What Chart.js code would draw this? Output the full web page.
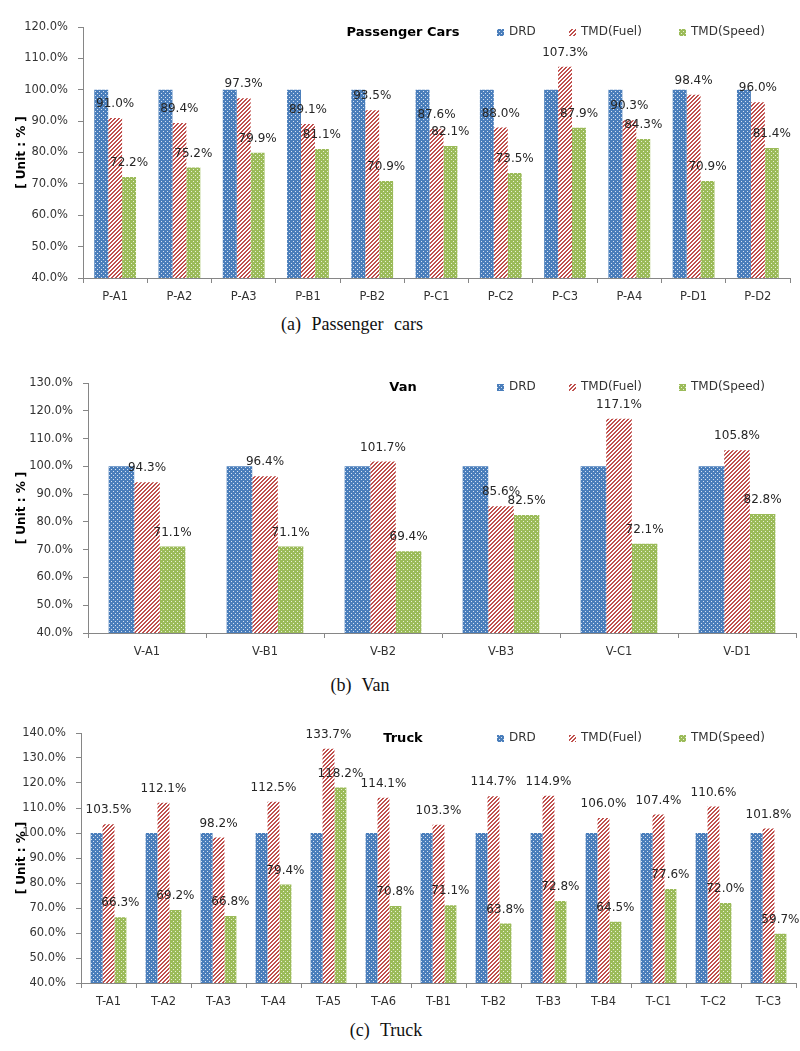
<!DOCTYPE html>
<html>
<head>
<meta charset="utf-8">
<script src="https://cdn.jsdelivr.net/npm/chart.js@4.4.1/dist/chart.umd.min.js"></script>
<style>
  body { margin: 0; background: #fff; }
  #page { position: relative; width: 800px; height: 1051px; overflow: hidden; }
  canvas { position: absolute; left: 0; }
  .caption {
    position: absolute; width: 300px; text-align: center;
    font-family: "Liberation Serif", serif; font-size: 18px; color: #111;
    word-spacing: 6px;
  }
</style>
</head>
<body>
<div id="page">
  <canvas id="passenger" width="800" height="310" style="top:0"></canvas>
  <div class="caption" style="left:202px; top:314px">(a) Passenger cars</div>
  <canvas id="van" width="800" height="310" style="top:350px"></canvas>
  <div class="caption" style="left:210px; top:675px">(b) Van</div>
  <canvas id="truck" width="800" height="310" style="top:700px"></canvas>
  <div class="caption" style="left:236px; top:1020px">(c) Truck</div>
</div>
<script>
// series names
const seriesNames = ["DRD", "TMD(Fuel)", "TMD(Speed)"];

// (a) passenger cars
const passengerCategories = ["P-A1", "P-A2", "P-A3", "P-B1", "P-B2", "P-C1", "P-C2", "P-C3", "P-A4", "P-D1", "P-D2"];
const passengerDrd = [100, 100, 100, 100, 100, 100, 100, 100, 100, 100, 100];
const passengerFuel = [91.0, 89.4, 97.3, 89.1, 93.5, 87.6, 88.0, 107.3, 90.3, 98.4, 96.0];
const passengerSpeed = [72.2, 75.2, 79.9, 81.1, 70.9, 82.1, 73.5, 87.9, 84.3, 70.9, 81.4];

// (b) van
const vanCategories = ["V-A1", "V-B1", "V-B2", "V-B3", "V-C1", "V-D1"];
const vanDrd = [100, 100, 100, 100, 100, 100];
const vanFuel = [94.3, 96.4, 101.7, 85.6, 117.1, 105.8];
const vanSpeed = [71.1, 71.1, 69.4, 82.5, 72.1, 82.8];

// (c) truck
const truckCategories = ["T-A1", "T-A2", "T-A3", "T-A4", "T-A5", "T-A6", "T-B1", "T-B2", "T-B3", "T-B4", "T-C1", "T-C2", "T-C3"];
const truckDrd = [100, 100, 100, 100, 100, 100, 100, 100, 100, 100, 100, 100, 100];
const truckFuel = [103.5, 112.1, 98.2, 112.5, 133.7, 114.1, 103.3, 114.7, 114.9, 106.0, 107.4, 110.6, 101.8];
const truckSpeed = [66.3, 69.2, 66.8, 79.4, 118.2, 70.8, 71.1, 63.8, 72.8, 64.5, 77.6, 72.0, 59.7];

const FONT = '"DejaVu Sans", Verdana, sans-serif';

// small pixel tiles for the excel-like fill patterns
function makeTile(size, pick) {
  const c = document.createElement("canvas");
  c.width = size;
  c.height = size;
  const cx = c.getContext("2d");
  const img = cx.createImageData(size, size);
  for (let y = 0; y < size; y++) {
    for (let x = 0; x < size; x++) {
      const col = pick(x, y);
      const k = (y * size + x) * 4;
      img.data[k] = col[0];
      img.data[k + 1] = col[1];
      img.data[k + 2] = col[2];
      img.data[k + 3] = 255;
    }
  }
  cx.putImageData(img, 0, 0);
  return cx.createPattern(c, "repeat");
}

const blue = [74, 126, 187], red = [192, 80, 77], green = [155, 187, 89];
const dotted = (base, dot) => (x, y) => ((x === 1 && y === 1) || (x === 3 && y === 3)) ? dot : base;
const blueFill = makeTile(4, dotted(blue, [214, 226, 242]));
const greenFill = makeTile(4, dotted(green, [232, 240, 214]));
const redFill = makeTile(4, (x, y) => ((x + y) % 4 < 2 ? red : [255, 255, 255]));

const valueLabels = {
  id: "valueLabels",
  afterDatasetsDraw(chart) {
    const ctx = chart.ctx;
    ctx.save();
    ctx.font = "12px " + FONT;
    ctx.fillStyle = "#262626";
    ctx.textAlign = "center";
    ctx.textBaseline = "middle";
    chart.data.datasets.forEach((ds, i) => {
      if (!ds.showValues) return;
      chart.getDatasetMeta(i).data.forEach((bar, j) => {
        ctx.fillText(ds.data[j].toFixed(1) + "%", bar.x, bar.y - 14);
      });
    });
    ctx.restore();
  },
};

// title + legend drawn over the plot area, like the excel original
const header = {
  id: "header",
  afterDraw(chart, args, opts) {
    const ctx = chart.ctx;
    ctx.save();
    ctx.textBaseline = "middle";
    ctx.textAlign = "center";
    ctx.font = "bold 13px " + FONT;
    ctx.fillStyle = "#000";
    ctx.fillText(opts.title, 403, opts.y + 1);
    ctx.textAlign = "left";
    ctx.font = "12px " + FONT;
    const xs = [497, 569, 679];
    chart.data.datasets.forEach((ds, i) => {
      ctx.fillStyle = ds.backgroundColor;
      ctx.fillRect(xs[i], opts.y - 3, 7, 7);
      ctx.fillStyle = "#333";
      ctx.fillText(ds.label, xs[i] + 12, opts.y);
    });
    ctx.restore();
  },
};

function buildChart(id, labels, drd, fuel, speed, cfg) {
  return new Chart(document.getElementById(id), {
    type: "bar",
    data: {
      labels,
      datasets: [
        { label: seriesNames[0], data: drd, backgroundColor: blueFill },
        { label: seriesNames[1], data: fuel, backgroundColor: redFill, showValues: true },
        { label: seriesNames[2], data: speed, backgroundColor: greenFill, showValues: true },
      ],
    },
    options: {
      responsive: false,
      animation: false,
      devicePixelRatio: 1,
      layout: { padding: { top: cfg.top, right: cfg.right, left: 0, bottom: 0 } },
      datasets: { bar: { categoryPercentage: 0.65, barPercentage: 1.0, borderWidth: 0 } },
      plugins: {
        legend: { display: false },
        tooltip: { enabled: false },
        header: { title: cfg.title, y: cfg.headerY },
      },
      scales: {
        x: {
          grid: { offset: true, drawOnChartArea: false, tickLength: 5, color: "#868686" },
          border: { color: "#868686" },
          ticks: { font: { family: FONT, size: 11.5 }, color: "#333", padding: 7, maxRotation: 0, autoSkip: false },
          afterFit: (s) => { s.height = cfg.xHeight; },
        },
        y: {
          min: 40,
          max: cfg.max,
          grid: { drawOnChartArea: false, tickLength: 5, color: "#868686" },
          border: { color: "#868686" },
          ticks: {
            stepSize: 10,
            font: { family: FONT, size: 11.5 },
            color: "#333",
            padding: 10,
            callback: (v) => v.toFixed(1) + "%",
          },
          title: {
            display: true,
            text: "[ Unit : % ]",
            font: { family: FONT, size: 12, weight: "bold" },
            color: "#000",
            padding: { top: 15, bottom: 0 },
          },
          afterFit: (s) => { s.width = cfg.yWidth; },
        },
      },
    },
    plugins: [valueLabels, header],
  });
}

buildChart("passenger", passengerCategories, passengerDrd, passengerFuel, passengerSpeed,
  { title: "Passenger Cars", max: 120, top: 27, right: 10, yWidth: 83, xHeight: 32, headerY: 32 });
buildChart("van", vanCategories, vanDrd, vanFuel, vanSpeed,
  { title: "Van", max: 130, top: 33, right: 4, yWidth: 88, xHeight: 27, headerY: 37 });
buildChart("truck", truckCategories, truckDrd, truckFuel, truckSpeed,
  { title: "Truck", max: 140, top: 33, right: 4, yWidth: 81, xHeight: 27, headerY: 38 });
</script>
</body>
</html>
